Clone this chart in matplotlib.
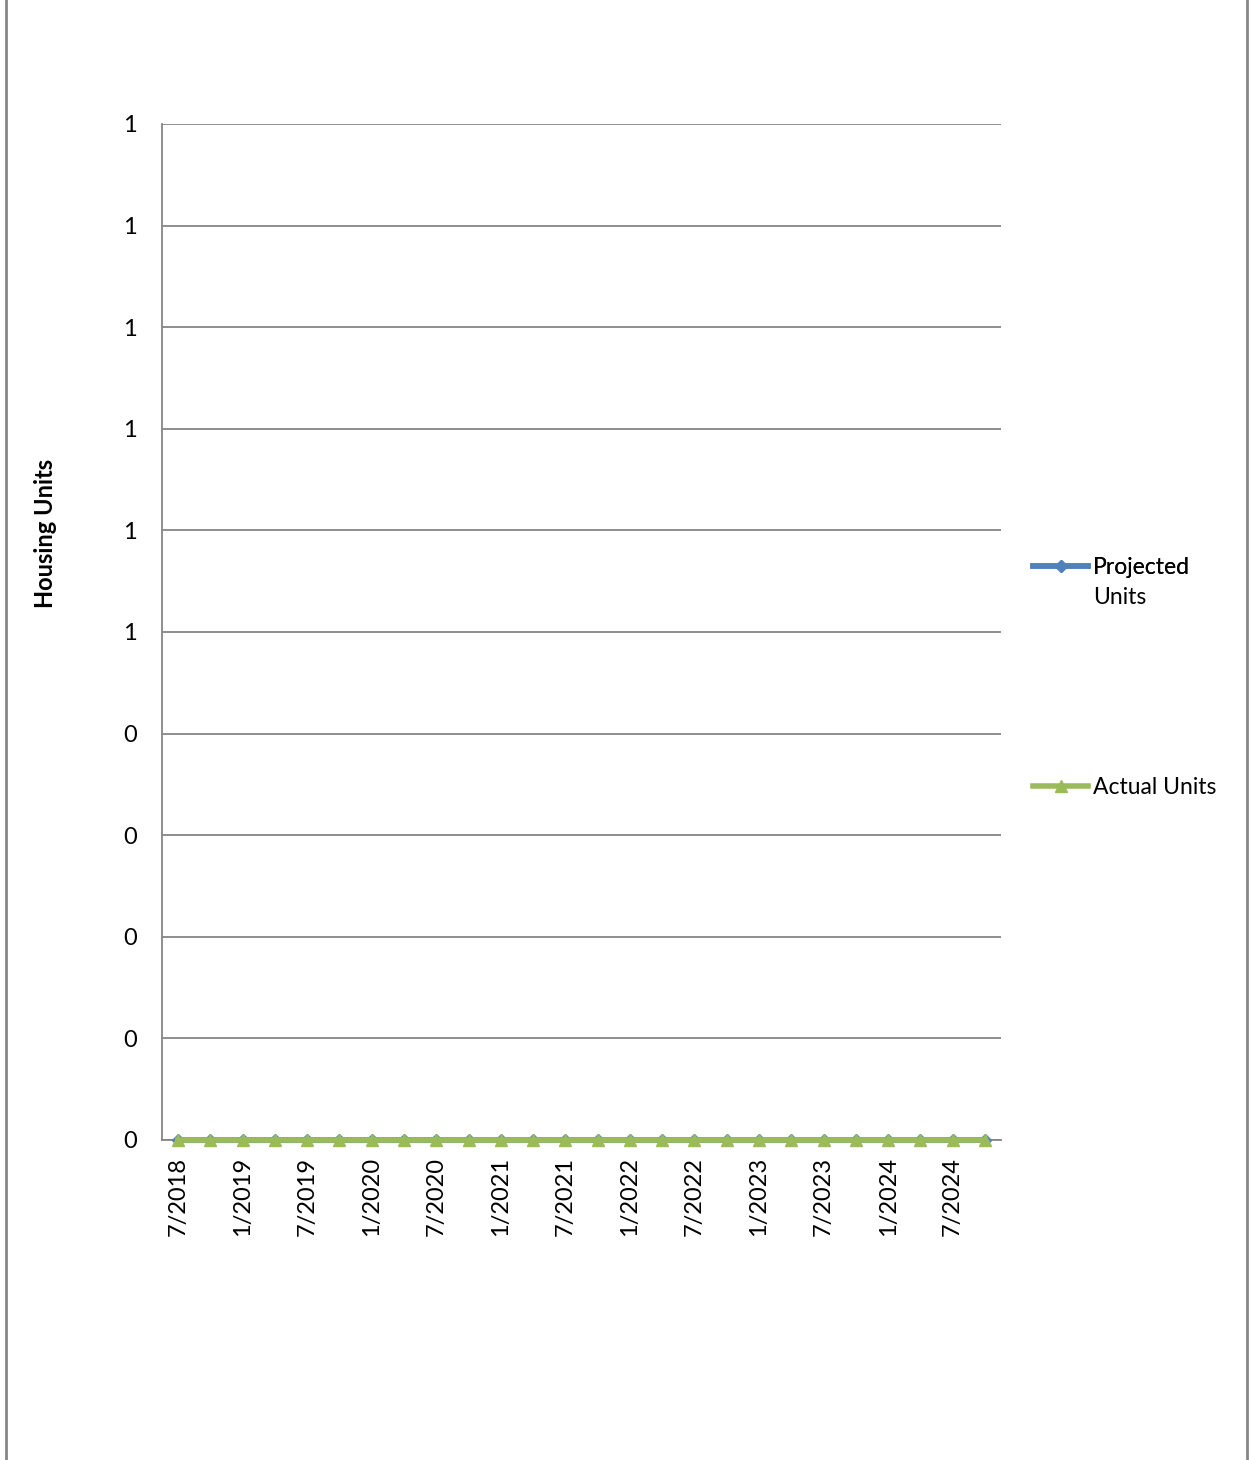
import matplotlib
matplotlib.use("Agg")
import matplotlib.pyplot as plt
from matplotlib.lines import Line2D

plt.rcParams['font.family'] = ['Lato', 'DejaVu Sans']

categories = ["7/2018", "10/2018", "1/2019", "4/2019", "7/2019", "10/2019",
              "1/2020", "4/2020", "7/2020", "10/2020", "1/2021", "4/2021",
              "7/2021", "10/2021", "1/2022", "4/2022", "7/2022", "10/2022",
              "1/2023", "4/2023", "7/2023", "10/2023", "1/2024", "4/2024",
              "7/2024", "10/2024"]
projected_units = [0] * 26
actual_units = [0] * 26
y_ticks = [0.0, 0.1, 0.2, 0.3, 0.4, 0.5, 0.6, 0.7, 0.8, 0.9, 1.0]
y_tick_labels = ["0", "0", "0", "0", "0", "1", "1", "1", "1", "1", "1"]

BLUE = "#4F81BD"
GREEN = "#9BBB59"
GRAY = "#868686"

fig = plt.figure(figsize=(12.49, 14.6), dpi=100)
ax = fig.add_axes([162/1249, 1 - 1140/1460, (1001-162)/1249, (1140-124)/1460])

x = list(range(len(categories)))
ax.plot(x, projected_units, color=BLUE, lw=4, marker="D", ms=6,
        clip_on=False, zorder=3)
ax.plot(x, actual_units, color=GREEN, lw=4, marker="^", ms=9,
        clip_on=False, zorder=4)

ax.set_xlim(-0.5, len(categories) - 0.5)
ax.set_ylim(0, 1)
ax.set_yticks(y_ticks)
ax.set_yticklabels(y_tick_labels)
ax.set_xticks(x[::2])
ax.set_xticklabels(categories[::2], rotation=90, va="top", ha="center")
ax.tick_params(axis="both", length=0, labelsize=17, colors="black")
ax.tick_params(axis="y", pad=18)
ax.tick_params(axis="x", pad=12)
ax.yaxis.grid(True, color=GRAY, lw=1.3)
ax.set_axisbelow(True)
for s in ["top", "right"]:
    ax.spines[s].set_visible(False)
for s in ["left", "bottom"]:
    ax.spines[s].set_color(GRAY)
    ax.spines[s].set_linewidth(1.3)

fig.text(46/1249, 1 - 533/1460, "Housing Units", rotation=90, fontsize=17,
         fontweight="bold", ha="center", va="center")

# legend
h1 = Line2D([], [], color=BLUE, lw=4, marker="D", ms=6)
h2 = Line2D([], [], color=GREEN, lw=4, marker="^", ms=9)
leg_kw = dict(loc="center left", frameon=False, fontsize=16.5,
              handlelength=2.4, handletextpad=0.2, borderaxespad=0, borderpad=0)
leg1 = fig.legend([h1], ["Projected"],
                  bbox_to_anchor=(1033/1249, 1 - 568/1460), **leg_kw)
fig.text(1093/1249, 1 - 598/1460, "Units", fontsize=16.5, ha="left", va="center")
leg2 = fig.legend([h2], ["Actual Units"],
                  bbox_to_anchor=(1033/1249, 1 - 788/1460), **leg_kw)
fig.add_artist(leg1)

# outer chart border (vertical edges only visible)
fig.add_artist(Line2D([6/1249, 6/1249], [0, 1], color=GRAY, lw=2,
                      transform=fig.transFigure))
fig.add_artist(Line2D([1247/1249, 1247/1249], [0, 1], color=GRAY, lw=2,
                      transform=fig.transFigure))

fig.savefig("out.png", dpi=100)
